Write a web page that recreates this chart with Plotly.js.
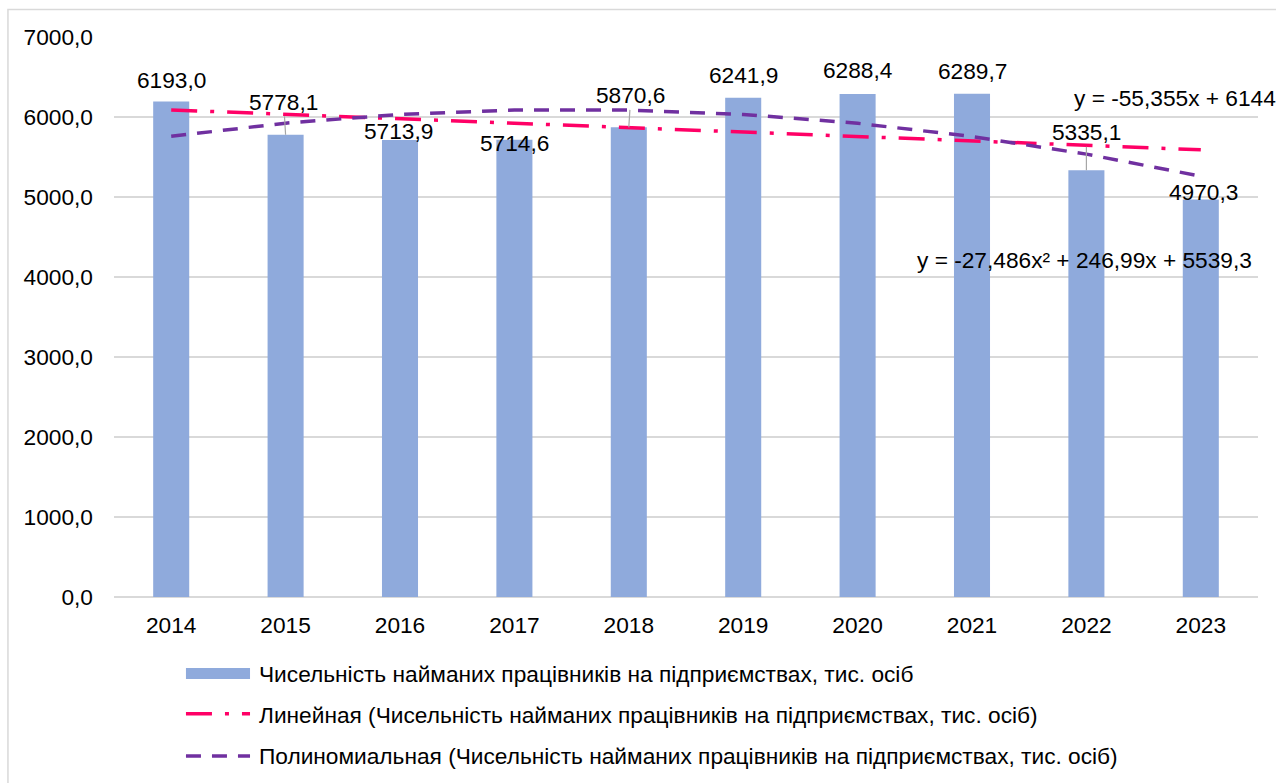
<!DOCTYPE html>
<html>
<head>
<meta charset="utf-8">
<script src="https://cdn.plot.ly/plotly-3.0.1.min.js"></script>
<style>html,body{margin:0;padding:0;background:#fff;}#chart{width:1276px;height:783px;}</style>
</head>
<body>
<div id="chart"></div>
<script>
var years = ['2014','2015','2016','2017','2018','2019','2020','2021','2022','2023'];
var employees = [6193.0, 5778.1, 5713.9, 5714.6, 5870.6, 6241.9, 6288.4, 6289.7, 5335.1, 4970.3];
var linearTrend = [6088.6, 6033.3, 5977.9, 5922.6, 5867.2, 5811.9, 5756.5, 5701.2, 5645.8, 5590.5];
var polyTrend = [5758.8, 5923.3, 6032.9, 6087.5, 6087.1, 6031.7, 5921.4, 5756.1, 5535.8, 5260.6];
var seriesNames = [
  'Чисельність найманих працівників на підприємствах, тис. осіб',
  'Линейная (Чисельність найманих працівників на підприємствах, тис. осіб)',
  'Полиномиальная (Чисельність найманих працівників на підприємствах, тис. осіб)'
];
var linearEq = 'y = -55,355x + 6144';
var polyEq = 'y = -27,486x² + 246,99x + 5539,3';
var yTicks = [0, 1000, 2000, 3000, 4000, 5000, 6000, 7000];

// label placement (pixel offsets from bar top), styling only
var labelShift = [22, 33, 9, -3, 32, 23, 24, 23, 38, 7];
var labelDx = [0, -2, -2, 0, 2, 0, 0, 0, 0, 3];
var hasLeader = [false, true, false, false, true, false, false, false, true, false];

var FONT = 'Liberation Sans, Arial, sans-serif';
var FS = 22.7;
var barColor = '#8FAADC';
var linColor = '#FF0066';
var polColor = '#7030A0';
var linDash = '26px,13px,4px,13px';
var polDash = '15px,11px';

var traces = [
  {type:'bar', x:years, y:employees, marker:{color:barColor}, name:seriesNames[0], hoverinfo:'x+y'},
  {type:'scatter', mode:'lines', x:years, y:linearTrend, line:{color:linColor, width:3.5, dash:linDash}, name:seriesNames[1]},
  {type:'scatter', mode:'lines', x:years, y:polyTrend, line:{color:polColor, width:3.5, dash:polDash}, name:seriesNames[2]}
];

function fmt(v){ return v.toFixed(1).replace('.', ','); }

var annotations = [];
for (var i = 0; i < years.length; i++) {
  if (hasLeader[i]) {
    annotations.push({x:i, y:employees[i], xref:'x', yref:'y', text:fmt(employees[i]),
      showarrow:true, arrowhead:0, arrowwidth:1.2, arrowcolor:'#A6A6A6', ax:labelDx[i], ay:-labelShift[i], standoff:0,
      font:{family:FONT, size:FS, color:'#000'}});
  } else {
    annotations.push({x:i, y:employees[i], xref:'x', yref:'y', text:fmt(employees[i]),
      showarrow:false, yshift:labelShift[i], xshift:labelDx[i], yanchor:'middle',
      font:{family:FONT, size:FS, color:'#000'}});
  }
}
annotations.push({xref:'paper', yref:'paper', x:0.8374, y:0.891, xanchor:'left', yanchor:'middle', text:linearEq, showarrow:false, font:{family:FONT, size:FS, color:'#000'}});
annotations.push({xref:'paper', yref:'paper', x:0.7002, y:0.6018, xanchor:'left', yanchor:'middle', text:polyEq, showarrow:false, font:{family:FONT, size:FS, color:'#000'}});

// custom legend
var legY = [-0.1375, -0.2107, -0.2839];
var lx0 = 0.0629, lx1 = 0.1189, ltx = 0.125;
for (var k = 0; k < 3; k++) {
  annotations.push({xref:'paper', yref:'paper', x:ltx, y:legY[k], xanchor:'left', yanchor:'middle', text:seriesNames[k], showarrow:false, font:{family:FONT, size:FS, color:'#000'}});
}
var shapes = [
  {type:'rect', xref:'paper', yref:'paper', x0:-0.0927, x1:1.03, y0:-0.4, y1:1.049, line:{color:'#D9D9D9', width:1.5}, fillcolor:'rgba(0,0,0,0)', layer:'below'},
  {type:'rect', xref:'paper', yref:'paper', x0:lx0, x1:lx1, y0:-0.1464, y1:-0.1268, line:{width:0}, fillcolor:barColor},
  {type:'line', xref:'paper', yref:'paper', x0:lx0, x1:lx1, y0:legY[1]+0.002, y1:legY[1]+0.002, line:{color:linColor, width:3.5, dash:linDash}},
  {type:'line', xref:'paper', yref:'paper', x0:lx0, x1:lx1, y0:legY[2], y1:legY[2], line:{color:polColor, width:3.5, dash:polDash}}
];

var layout = {
  width:1276, height:783,
  margin:{l:114, r:18, t:37, b:186},
  paper_bgcolor:'#fff', plot_bgcolor:'#fff',
  separators:', ',
  showlegend:false,
  bargap:0.685,
  font:{family:FONT, size:FS, color:'#000'},
  xaxis:{type:'category', range:[-0.5, 9.5], autorange:false, showgrid:false, zeroline:false, showline:false, ticks:'', ticklabelstandoff:12,
    tickfont:{family:FONT, size:FS, color:'#000'}, fixedrange:true},
  yaxis:{range:[0,7000], autorange:false, tickvals:yTicks, tickformat:'.1f', showgrid:true, gridcolor:'#D9D9D9', gridwidth:1.5,
    zeroline:true, zerolinecolor:'#D9D9D9', zerolinewidth:1.5, showline:false, ticks:'', ticklabelstandoff:20,
    tickfont:{family:FONT, size:FS, color:'#000'}, fixedrange:true},
  annotations:annotations,
  shapes:shapes
};

Plotly.newPlot('chart', traces, layout, {displayModeBar:false, staticPlot:true});
</script>
</body>
</html>
